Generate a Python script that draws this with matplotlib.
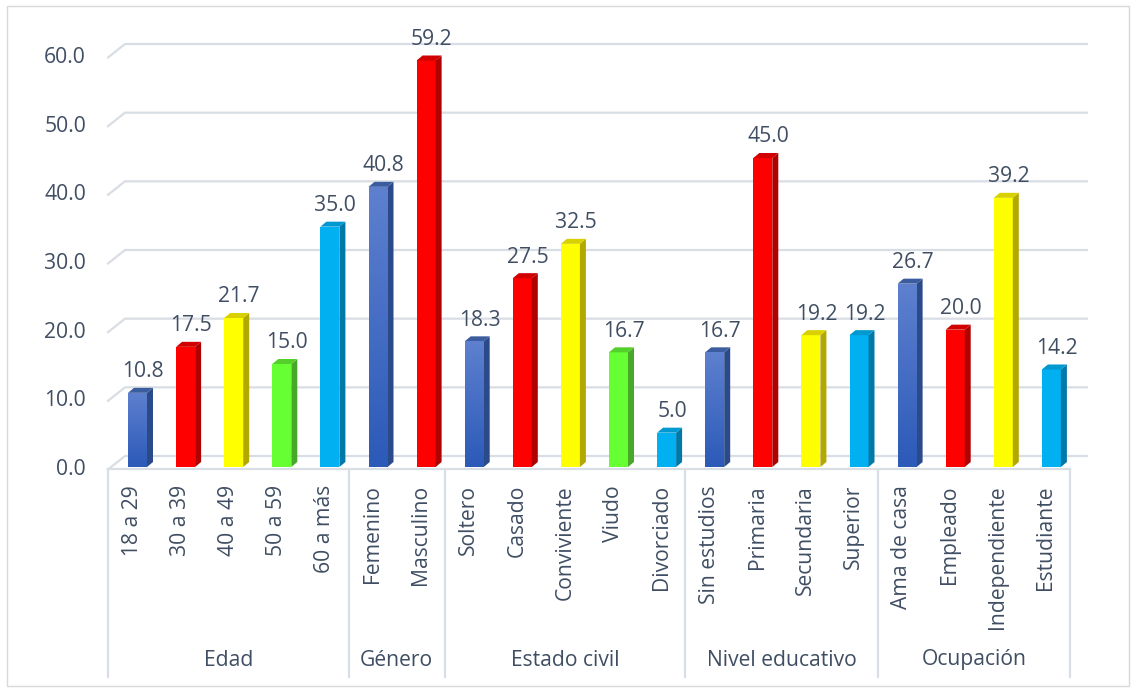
import matplotlib
matplotlib.use("Agg")
import matplotlib.pyplot as plt
import numpy as np
from matplotlib.patches import Polygon, Rectangle

plt.rcParams["font.family"] = ["Open Sans", "DejaVu Sans"]

groups = ["Edad", "Género", "Estado civil", "Nivel educativo", "Ocupación"]
group_sizes = [5, 2, 5, 4, 4]
categories = [
    "18 a 29", "30 a 39", "40 a 49", "50 a 59", "60 a más",
    "Femenino", "Masculino",
    "Soltero", "Casado", "Conviviente", "Viudo", "Divorciado",
    "Sin estudios", "Primaria", "Secundaria", "Superior",
    "Ama de casa", "Empleado", "Independiente", "Estudiante",
]
values = [
    10.8, 17.5, 21.7, 15.0, 35.0,
    40.8, 59.2,
    18.3, 27.5, 32.5, 16.7, 5.0,
    16.7, 45.0, 19.2, 19.2,
    26.7, 20.0, 39.2, 14.2,
]
bar_colors = [
    "blue", "red", "yellow", "green", "cyan",
    "blue", "red",
    "blue", "red", "yellow", "green", "cyan",
    "blue", "red", "yellow", "cyan",
    "blue", "red", "yellow", "cyan",
]
y_ticks = [0, 10, 20, 30, 40, 50, 60]

# front / side / top shades
palette = {
    "blue": ("#4A6EC4", "#2A4A8A", "#3B5C9E"),
    "red": ("#FF0000", "#B00000", "#D00000"),
    "yellow": ("#FFFF00", "#B3A800", "#D9D000"),
    "green": ("#66FF33", "#48A82A", "#55D02A"),
    "cyan": ("#00B0F0", "#0078A8", "#0098D0"),
}
text_color = "#404E63"
grid_color = "#D9DDE4"
fs = 15.2

W, H = 1136, 692
fig = plt.figure(figsize=(W / 100, H / 100), dpi=100)

# axes geometry in pixels
left_px, right_px = 108, 1070
zero_px, top_px = 467, 55
n = len(categories)
px_per_x = (right_px - left_px) / n
px_per_y = (zero_px - top_px) / 60.0

ax = fig.add_axes([left_px / W, 1 - zero_px / H, (right_px - left_px) / W, (zero_px - top_px) / H])
ax.set_xlim(0, n)
ax.set_ylim(0, 60)
ax.axis("off")


def dx(px):
    return px / px_per_x


def dy(px):
    return px / px_per_y


def ypx(py):
    return (zero_px - py) / px_per_y


# back wall gridlines with depth diagonal
for v in y_ticks:
    ax.plot([0, dx(17), dx(979)], [v - dy(2.5), v + dy(11), v + dy(11)],
            color=grid_color, lw=1.6, clip_on=False, zorder=1)
    ax.text(-dx(22), v - dy(2.5), f"{v:.1f}", ha="right", va="center",
            fontsize=fs, color=text_color)

# floor front line
ax.plot([0, n], [ypx(469), ypx(469)], color=grid_color, lw=1.6, clip_on=False, zorder=1)

# group separators and labels
bounds = np.concatenate([[0], np.cumsum(group_sizes)])
for b in bounds:
    ax.plot([b, b], [ypx(469), ypx(677)], color=grid_color, lw=1.6, clip_on=False, zorder=1)
for g, a, b in zip(groups, bounds[:-1], bounds[1:]):
    ax.text((a + b) / 2, ypx(660), g, ha="center", va="center",
            fontsize=fs, color=text_color)

# category labels
for i, c in enumerate(categories):
    ax.text(i + 0.5, ypx(485), c, rotation=90, ha="center", va="top",
            fontsize=fs, color=text_color)

# 3D-look bars
off_x, off_y = dx(6), dy(5)
bw = dx(19)
for i, (v, ck) in enumerate(zip(values, bar_colors)):
    front, side, top = palette[ck]
    xl = i + dx(20)
    xr = xl + bw
    rect = Rectangle((xl, 0), bw, v, facecolor=front, edgecolor="none", zorder=3)
    ax.add_patch(rect)
    if ck == "blue":
        grad = np.linspace(0, 1, 100)[:, None]
        c0 = np.array([0x5E, 0x80, 0xCF]) / 255
        c1 = np.array([0x2C, 0x5A, 0xB8]) / 255
        img = c0[None, None, :] * (1 - grad[:, :, None]) + c1[None, None, :] * grad[:, :, None]
        im = ax.imshow(img, extent=[xl, xr, 0, v], origin="upper", aspect="auto", zorder=3.5)
        im.set_clip_path(rect)
    ax.add_patch(Polygon([(xr, 0), (xr + off_x, off_y), (xr + off_x, v + off_y), (xr, v)],
                         closed=True, facecolor=side, edgecolor="none", zorder=3, clip_on=False))
    ax.add_patch(Polygon([(xl, v), (xl + off_x, v + off_y), (xr + off_x, v + off_y), (xr, v)],
                         closed=True, facecolor=top, edgecolor="none", zorder=3, clip_on=False))
    ax.text(i + dx(35), v + dy(21), f"{v:.1f}", ha="center", va="center",
            fontsize=fs, color=text_color, zorder=4, clip_on=False)

ax.set_xlim(0, n)
ax.set_ylim(0, 60)

# chart border
fig.patches.append(Rectangle((7 / W, 1 - 686 / H), (1129 - 7) / W, (686 - 6) / H,
                             transform=fig.transFigure, fill=False,
                             edgecolor="#D9D9D9", lw=1))

fig.savefig("out.png", dpi=100)
